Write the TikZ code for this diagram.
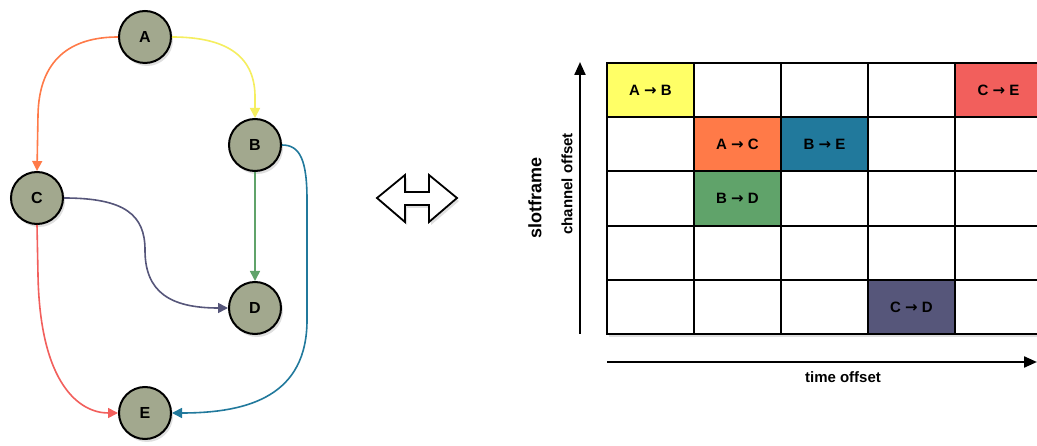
\documentclass[tikz,border=0pt]{standalone}
\usepackage{fontspec}
\setmainfont{Liberation Sans}
\newfontfamily\arrowfont{DejaVu Sans}
\usetikzlibrary{arrows.meta,shadows}

\definecolor{vertexfill}{RGB}{162,168,142}
\definecolor{cYellow}{RGB}{255,255,102}
\definecolor{eYellow}{RGB}{245,238,95}
\definecolor{cOrange}{RGB}{255,122,72}
\definecolor{cGreen}{RGB}{96,163,106}
\definecolor{cTeal}{RGB}{33,121,156}
\definecolor{cRed}{RGB}{242,95,92}
\definecolor{cSlate}{RGB}{86,86,122}

% bold arrow glyph used in the schedule cells
\newcommand{\linkto}{{\arrowfont\bfseries →}}

\tikzset{
  vertex/.style={circle, draw=black, line width=2pt, fill=vertexfill,
    minimum size=52pt, inner sep=0pt, font=\bfseries\fontsize{16}{16}\selectfont,
    drop shadow={shadow xshift=2pt, shadow yshift=-3pt, opacity=0.25, fill=gray}},
  edge/.style={line width=1.6pt, -{Triangle[length=10pt,width=10pt]}},
  cell/.style={rectangle, draw=black, line width=2pt, fill=white,
    minimum width=87pt, minimum height=54.2pt, inner sep=0pt,
    font=\bfseries\fontsize{15}{15}\selectfont},
  axis/.style={line width=2.2pt, -{Triangle[length=13pt,width=11pt]}},
  axislabel/.style={font=\bfseries\fontsize{15}{15}\selectfont, inner sep=0pt},
}

\begin{document}
\begin{tikzpicture}[x=1pt,y=-1pt]
\clip (0,0) rectangle (1037,446);
\fill[white] (0,0) rectangle (1037,446);

% graph vertices
\node[vertex] (A) at (145,37) {A};
\node[vertex] (B) at (255,145) {B};
\node[vertex] (C) at (37,198) {C};
\node[vertex] (D) at (255,308) {D};
\node[vertex] (E) at (145,413) {E};

% graph edges
\draw[edge, cOrange] (A.west) .. controls (70,37) and (39,60) .. (38,115) -- (C.north);
\draw[edge, eYellow] (A.east) .. controls (225,37) and (254,55) .. (255,95) -- (B.north);
\draw[edge, cGreen] (B.south) -- (D.north);
\draw[edge, cTeal] (B.east) .. controls (300,145) and (307,160) .. (307,200) -- (307,320)
  .. controls (307,395) and (250,413) .. (E.east);
\draw[edge, cSlate] (C.east) .. controls (125,198) and (145,215) .. (145,250)
  .. controls (145,292) and (170,308) .. (D.west);
\draw[edge, cRed] (C.south) -- (38,275) .. controls (40,385) and (80,413) .. (E.west);

% double-headed arrow between the two views
\draw[line width=1.8pt, fill=white, line join=miter,
  drop shadow={shadow xshift=2pt, shadow yshift=-3pt, opacity=0.25, fill=gray}]
  (377,198) -- (405,175) -- (405,192) -- (429,192) -- (429,175) -- (457,198)
  -- (429,222) -- (429,205) -- (405,205) -- (405,222) -- cycle;

% soft shadow under the schedule grid
\fill[gray, opacity=0.25] (609,66) rectangle (1045,337);

% slotframe grid
\foreach \r in {0,...,4}
  \foreach \c in {0,...,5}
    \node[cell] (cell-\r-\c) at (650.5+87*\c, 90.1+54.2*\r) {};

\node[cell, fill=cYellow] (ab) at (cell-0-0) {A \linkto{} B};
\node[cell, fill=cRed]    (ce) at (cell-0-4) {C \linkto{} E};
\node[cell, fill=cOrange] (ac) at (cell-1-1) {A \linkto{} C};
\node[cell, fill=cTeal]   (be) at (cell-1-2) {B \linkto{} E};
\node[cell, fill=cGreen]  (bd) at (cell-2-1) {B \linkto{} D};
\node[cell, fill=cSlate]  (cd) at (cell-4-3) {C \linkto{} D};

% axes
\coordinate (ys) at (580,334);
\coordinate (ye) at (580,62);
\coordinate (xs) at (607,362);
\coordinate (xe) at (1037,362);
\draw[axis] (ys) -- (ye);
\draw[axis] (xs) -- (xe);

\node[axislabel, font=\bfseries\fontsize{18}{18}\selectfont, rotate=90] (slot) at (535,198) {slotframe};
\node[axislabel, rotate=90] (chan) at (567,184) {channel offset};
\node[axislabel] (time) at (843,377) {time offset};
\end{tikzpicture}
\end{document}
